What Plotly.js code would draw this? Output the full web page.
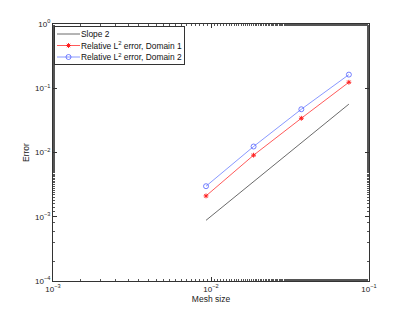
<!DOCTYPE html>
<html>
<head>
<meta charset="utf-8">
<script src="https://cdn.plot.ly/plotly-3.0.1.min.js"></script>
<style>html,body{margin:0;padding:0;background:#fff;}#chart{width:408px;height:317px;}</style>
</head>
<body>
<div id="chart"></div>
<script>
var meshSize = [0.0093, 0.0186, 0.0373, 0.0746];
var slope2 = [0.00088, 0.0035, 0.0141, 0.0566];
var errDomain1 = [0.00211, 0.00908, 0.0341, 0.124];
var errDomain2 = [0.00299, 0.0124, 0.0471, 0.163];
var seriesNames = ['Slope 2', 'Relative L<sup>2</sup> error, Domain 1', 'Relative L<sup>2</sup> error, Domain 2'];
var xTickVals = [0.001, 0.01, 0.1];
var xTickText = ['10<sup>−3</sup>', '10<sup>−2</sup>', '10<sup>−1</sup>'];
var yTickVals = [0.0001, 0.001, 0.01, 0.1, 1];
var yTickText = ['10<sup>−4</sup>', '10<sup>−3</sup>', '10<sup>−2</sup>', '10<sup>−1</sup>', '10<sup>0</sup>'];

var fam = 'Liberation Sans, Arial, sans-serif';
var tickFont = {family: fam, size: 8, color: '#222'};
var titleFont = {family: fam, size: 8.5, color: '#222'};
var traces = [
  {x: meshSize, y: slope2, name: seriesNames[0], mode: 'lines', line: {color: '#444', width: 0.8}},
  {x: meshSize, y: errDomain1, name: seriesNames[1], mode: 'lines+markers', line: {color: '#ff3030', width: 0.8},
   marker: {symbol: 'asterisk-open', size: 4, color: '#ff2020', line: {color: '#ff2020', width: 1}}},
  {x: meshSize, y: errDomain2, name: seriesNames[2], mode: 'lines+markers', line: {color: '#6a7dff', width: 0.8},
   marker: {symbol: 'circle-open', size: 5, color: '#5060ff', line: {color: '#5060ff', width: 0.8}}}
];
var axisCommon = {
  type: 'log', showgrid: false, zeroline: false,
  showline: true, linecolor: '#333', linewidth: 1, mirror: 'ticks',
  ticks: 'inside', ticklen: 4, tickcolor: '#333', tickfont: tickFont, tickmode: 'array',
  minor: {ticks: 'inside', ticklen: 2, tickcolor: '#555', showgrid: false}
};
var layout = {
  width: 408, height: 317,
  margin: {l: 53, r: 39, t: 24, b: 36},
  paper_bgcolor: '#fff', plot_bgcolor: '#fff',
  font: tickFont,
  showlegend: true,
  legend: {x: 0.003, y: 0.992, xanchor: 'left', yanchor: 'top', bgcolor: '#fff',
           bordercolor: '#333', borderwidth: 1, font: {family: fam, size: 8.4, color: '#111'},
           tracegroupgap: 0, itemwidth: 30},
  xaxis: Object.assign({}, axisCommon, {range: [-3, -1], tickvals: xTickVals, ticktext: xTickText,
    title: {text: 'Mesh size', font: titleFont, standoff: 3}}),
  yaxis: Object.assign({}, axisCommon, {range: [-4, 0], tickvals: yTickVals, ticktext: yTickText,
    title: {text: 'Error', font: titleFont, standoff: 4}})
};

// compact the legend layout (MATLAB-style tight legend)
function compactLegend(gd) {
  var leg = gd.querySelector('.legend');
  if (!leg) return;
  var items = leg.querySelectorAll('.traces');
  var spacing = 11.5, top = 8, textX = 27;
  var maxR = 0;
  items.forEach(function (it, i) {
    it.setAttribute('transform', 'translate(0,' + (top + i * spacing) + ')');
    it.querySelectorAll('.legendlines path').forEach(function (p) { p.setAttribute('d', 'M3,0h23'); });
    it.querySelectorAll('.legendpoints path').forEach(function (p) { p.setAttribute('transform', 'translate(14.5,0)'); });
    var t = it.querySelector('text.legendtext');
    if (t) {
      t.setAttribute('x', textX);
      t.querySelectorAll('tspan[x]').forEach(function (s) { s.setAttribute('x', textX); });
      var bb = t.getBBox();
      maxR = Math.max(maxR, bb.x + bb.width);
    }
  });
  var w = maxR + 2, h = top + (items.length - 1) * spacing + 7;
  var bg = leg.querySelector('rect.bg');
  if (bg) { bg.setAttribute('width', w); bg.setAttribute('height', h); }
  leg.querySelectorAll('clipPath rect, defs rect').forEach(function (r) { r.setAttribute('width', w); r.setAttribute('height', h); });
  var sb = leg.querySelector('.scrollbox');
  if (sb) sb.setAttribute('transform', 'translate(0,0)');
  leg.setAttribute('transform', 'translate(54,26)');
}

Plotly.newPlot('chart', traces, layout, {displayModeBar: false, staticPlot: true}).then(function (gd) {
  compactLegend(gd);
});
</script>
</body>
</html>
